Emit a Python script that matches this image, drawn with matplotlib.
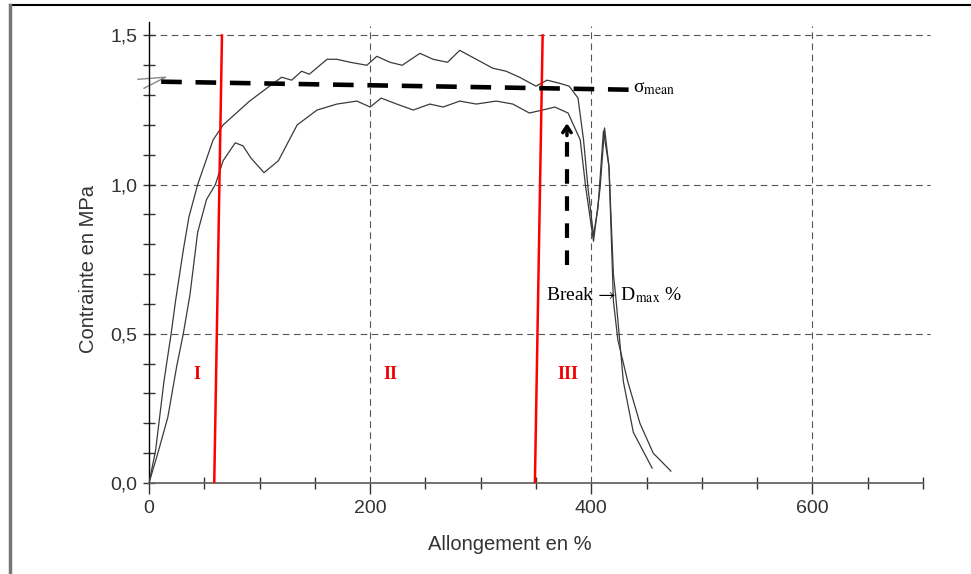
import numpy as np
import matplotlib.pyplot as plt
from matplotlib.lines import Line2D
from matplotlib.ticker import MultipleLocator, FuncFormatter

# ── 데이터 ─────────────────────────────────────────
upper_x = [0, 6, 13.5, 20, 24, 31, 36, 44, 58, 67, 79, 91, 109, 120, 129,
           138, 145, 161, 170, 182, 197, 206, 218, 229, 245, 257, 270, 281,
           296, 311, 323, 335, 350, 360, 371, 380, 388, 393, 397, 402, 406,
           411, 416, 420, 424, 433, 444, 456, 472]
upper_y = [0.00, 0.11, 0.34, 0.50, 0.61, 0.78, 0.89, 1.00, 1.15, 1.20, 1.24,
           1.28, 1.33, 1.36, 1.35, 1.38, 1.37, 1.42, 1.42, 1.41, 1.40, 1.43,
           1.41, 1.40, 1.44, 1.42, 1.41, 1.45, 1.42, 1.39, 1.38, 1.36, 1.33,
           1.35, 1.34, 1.33, 1.29, 1.15, 0.99, 0.83, 0.92, 1.18, 1.06, 0.61,
           0.48, 0.34, 0.20, 0.10, 0.04]

lower_x = [0, 8, 17, 25, 31, 37, 44, 52, 60, 67, 78, 85, 92, 104, 117, 134,
           152, 170, 188, 200, 210, 224, 239, 254, 266, 281, 296, 314, 329,
           344, 356, 367, 379, 390, 395, 402, 408, 412, 416, 420, 422, 429,
           438, 455]
lower_y = [0.00, 0.10, 0.22, 0.39, 0.50, 0.63, 0.84, 0.95, 1.00, 1.08, 1.14,
           1.13, 1.09, 1.04, 1.08, 1.20, 1.25, 1.27, 1.28, 1.26, 1.29, 1.27,
           1.25, 1.27, 1.26, 1.28, 1.27, 1.28, 1.27, 1.24, 1.25, 1.26, 1.24,
           1.15, 0.99, 0.81, 0.99, 1.19, 1.06, 0.70, 0.63, 0.34, 0.17, 0.05]

# 영역 경계 (빨간 선: 아래/위 x)
zone_bottom_x = [59, 349]
zone_top_x = [66, 356]
zone_labels = ['I', 'II', 'III']
zone_label_x = [43, 218, 379]
zone_label_y = 0.365

sigma_mean_x = [11, 435]
sigma_mean_y = [1.345, 1.318]

break_x = 378
break_y = [0.73, 1.215]

x_ticks = [0, 200, 400, 600]
y_ticks = [0.0, 0.5, 1.0, 1.5]

plt.rcParams['mathtext.fontset'] = 'stix'

fig = plt.figure(figsize=(9.71, 5.74), dpi=100)
ax = fig.add_axes([149 / 971, 91 / 574, (923 - 149) / 971, (483 - 22) / 574])
ax.set_xlim(0, 700)
ax.set_ylim(0, 1.545)

# ── 격자 ──
for gx in x_ticks[1:]:
    ax.plot([gx, gx], [0, 1.53], color='#555555', lw=0.8,
            dashes=(6, 4), zorder=1)
for gy in y_ticks[1:]:
    ax.plot([0, 706], [gy, gy], color='#555555', lw=0.8,
            dashes=(6, 4), zorder=1, clip_on=False)

# ── 곡선 ──
ax.plot(upper_x, upper_y, color='#3a3a3a', lw=0.9, zorder=3)
ax.plot(lower_x, lower_y, color='#3a3a3a', lw=0.9, zorder=3)

# ── 영역 경계 + 라벨 ──
for xb, xt in zip(zone_bottom_x, zone_top_x):
    ax.plot([xb, xt], [0, 1.5], color='#ff0000', lw=1.8, zorder=4)
for lab, lx in zip(zone_labels, zone_label_x):
    ax.text(lx, zone_label_y, lab, color='#ee0000', fontsize=13,
            fontweight='bold', family='Liberation Serif',
            ha='center', va='center')

# ── σ_mean 점선 ──
ax.plot(sigma_mean_x, sigma_mean_y, color='black', lw=3.3,
        dashes=(4.5, 3), zorder=5)
ax.text(sigma_mean_x[1] + 3, sigma_mean_y[1] + 0.005, 'σ$_{\\rm mean}$',
        fontsize=14, family='Liberation Serif', ha='left', va='center')

# 손으로 그린 작은 화살표 표시
ax.plot([-10, 15, -4.5], [1.353, 1.36, 1.323], color='#888888', lw=1,
        clip_on=False, zorder=2)

# ── Break 화살표 ──
ax.plot([break_x, break_x], [break_y[0], break_y[1] - 0.03], color='black',
        lw=3, dashes=(3.5, 3), zorder=5)
ax.annotate('', xy=(break_x, break_y[1]), xytext=(break_x, break_y[1] - 0.06),
            arrowprops=dict(arrowstyle='->,head_length=0.45,head_width=0.3',
                            color='black', lw=2.5), zorder=6)
ax.text(359, 0.63, r'Break$\,\rightarrow\,$D$_{\rm max}$ %', fontsize=14,
        family='Liberation Serif', ha='left', va='center')

# ── 축 ──
for side in ['top', 'right']:
    ax.spines[side].set_visible(False)
ax.spines['left'].set_color('black')
ax.spines['left'].set_linewidth(1.0)
ax.spines['bottom'].set_color('#666666')
ax.spines['bottom'].set_linewidth(1.3)

ax.set_xticks(x_ticks)
ax.set_yticks(y_ticks)
ax.xaxis.set_minor_locator(MultipleLocator(50))
ax.yaxis.set_minor_locator(MultipleLocator(0.1))
ax.yaxis.set_major_formatter(FuncFormatter(lambda v, p: f'{v:.1f}'.replace('.', ',')))
ax.tick_params(axis='both', which='major', direction='inout', length=9,
               width=1, colors='#333333', labelsize=14, pad=4)
ax.tick_params(axis='both', which='minor', direction='inout', length=8,
               width=1, colors='#333333')
ax.tick_params(axis='x', which='major', direction='out', length=8, pad=4)
for lbl in ax.get_xticklabels() + ax.get_yticklabels():
    lbl.set_family('Liberation Sans')
    lbl.set_color('#333333')

fig.text(88 / 971, 1 - 269 / 574, 'Contrainte en MPa', rotation=90,
         ha='center', va='center', fontsize=14.5, color='#333333',
         family='Liberation Sans')
fig.text(510 / 971, 1 - 545 / 574, 'Allongement en %', ha='center',
         va='center', fontsize=14.5, color='#333333', family='Liberation Sans')

# 이미지 테두리
fig.add_artist(Line2D([10 / 971, 1], [1 - 5 / 574, 1 - 5 / 574],
                      color='black', lw=1.5, transform=fig.transFigure))
fig.add_artist(Line2D([10 / 971, 10 / 971], [0, 1 - 5 / 574],
                      color='#777777', lw=2.5, transform=fig.transFigure))

fig.savefig('out.png', dpi=100)
